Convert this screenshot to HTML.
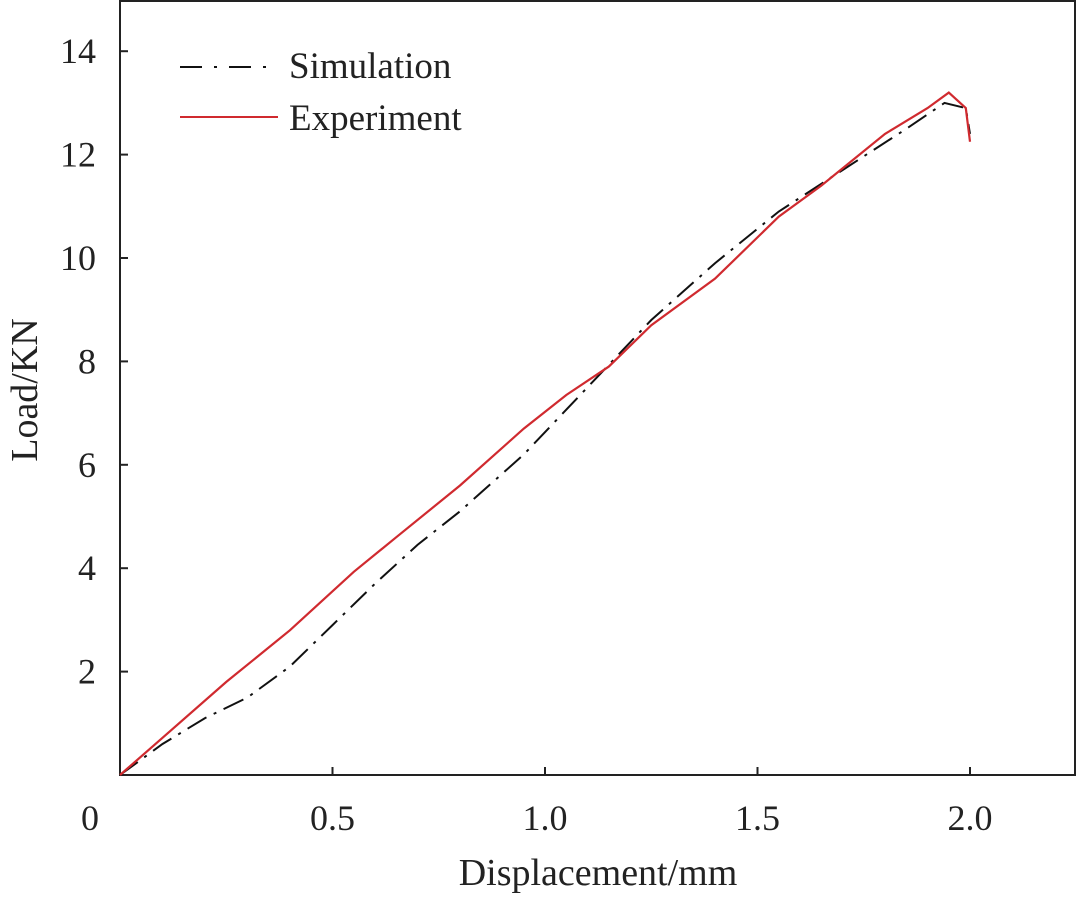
<!DOCTYPE html>
<html><head><meta charset="utf-8"><style>
html,body{margin:0;padding:0;background:#fff}
svg{display:block;font-family:"Liberation Serif",serif}
</style></head><body>
<svg width="1080" height="897" viewBox="0 0 1080 897">
<g id="axes"></g>
<g id="plot"></g>
</svg>
<script>
const xTicks=[0.5,1.0,1.5,2.0];
const xTickLabels=["0.5","1.0","1.5","2.0"];
const yTicks=[2,4,6,8,10,12,14];
const yTickLabels=["2","4","6","8","10","12","14"];
const simX=[0,0.1,0.2,0.3,0.4,0.5,0.6,0.7,0.8,0.95,1.1,1.25,1.4,1.55,1.7,1.85,1.94,1.99,2.0];
const simY=[0,0.6,1.1,1.5,2.1,2.9,3.7,4.45,5.1,6.2,7.5,8.8,9.9,10.9,11.7,12.5,13.0,12.9,12.4];
const expX=[0,0.1,0.25,0.4,0.55,0.65,0.8,0.95,1.05,1.15,1.25,1.4,1.55,1.65,1.8,1.9,1.95,1.99,2.0];
const expY=[0,0.72,1.8,2.8,3.93,4.6,5.6,6.7,7.35,7.9,8.7,9.6,10.8,11.4,12.4,12.9,13.2,12.9,12.25];
const X=v=>120+425*v, Y=v=>775-51.7*v;
const NS="http://www.w3.org/2000/svg";
function mk(t,a,p){const e=document.createElementNS(NS,t);for(const k in a)e.setAttribute(k,a[k]);p.appendChild(e);return e;}
const ax=document.getElementById('axes'), pl=document.getElementById('plot');
const frame=mk('rect',{x:120,y:1,width:955,height:774,fill:'none',stroke:'#222','stroke-width':2},ax);


xTicks.forEach((v,i)=>{
  const t=mk('line',{x1:X(v),x2:X(v),y1:775,y2:767,stroke:'#222','stroke-width':2},ax);
  
  
  const l=mk('text',{x:X(v),y:830,'font-size':36,'text-anchor':'middle',fill:'#222'},ax);l.textContent=xTickLabels[i];
  
  
});
const z=mk('text',{x:90,y:830,'font-size':36,'text-anchor':'middle',fill:'#222'},ax);z.textContent="0";


yTicks.forEach((v,i)=>{
  const t=mk('line',{x1:120,x2:128,y1:Y(v),y2:Y(v),stroke:'#222','stroke-width':2},ax);
  
  
  const l=mk('text',{x:96,y:Y(v)+12,'font-size':36,'text-anchor':'end',fill:'#222'},ax);l.textContent=yTickLabels[i];
  
  
});
const xt=mk('text',{x:598,y:885,'font-size':38,'text-anchor':'middle',fill:'#222'},ax);xt.textContent="Displacement/mm";


const yt=mk('text',{x:0,y:0,'font-size':38,'text-anchor':'middle',fill:'#222',transform:'translate(37,390) rotate(-90)'},ax);yt.textContent="Load/KN";


const pts=(xs,ys)=>xs.map((v,i)=>X(v).toFixed(1)+','+Y(ys[i]).toFixed(1)).join(' ');
const s=mk('polyline',{points:pts(simX,simY),fill:'none',stroke:'#111','stroke-width':2,'stroke-dasharray':'22 8 3 8'},pl);


const e=mk('polyline',{points:pts(expX,expY),fill:'none',stroke:'#d02a2f','stroke-width':2.2},pl);


const l1=mk('line',{x1:180,x2:272,y1:67,y2:67,stroke:'#111','stroke-width':2,'stroke-dasharray':'22 12 3 12'},pl);


const t1=mk('text',{x:289,y:78,'font-size':37,fill:'#222'},pl);t1.textContent="Simulation";


const l2=mk('line',{x1:180,x2:278,y1:117,y2:117,stroke:'#d02a2f','stroke-width':2},pl);


const t2=mk('text',{x:289,y:130,'font-size':37,fill:'#222'},pl);t2.textContent="Experiment";


</script>
</body></html>
